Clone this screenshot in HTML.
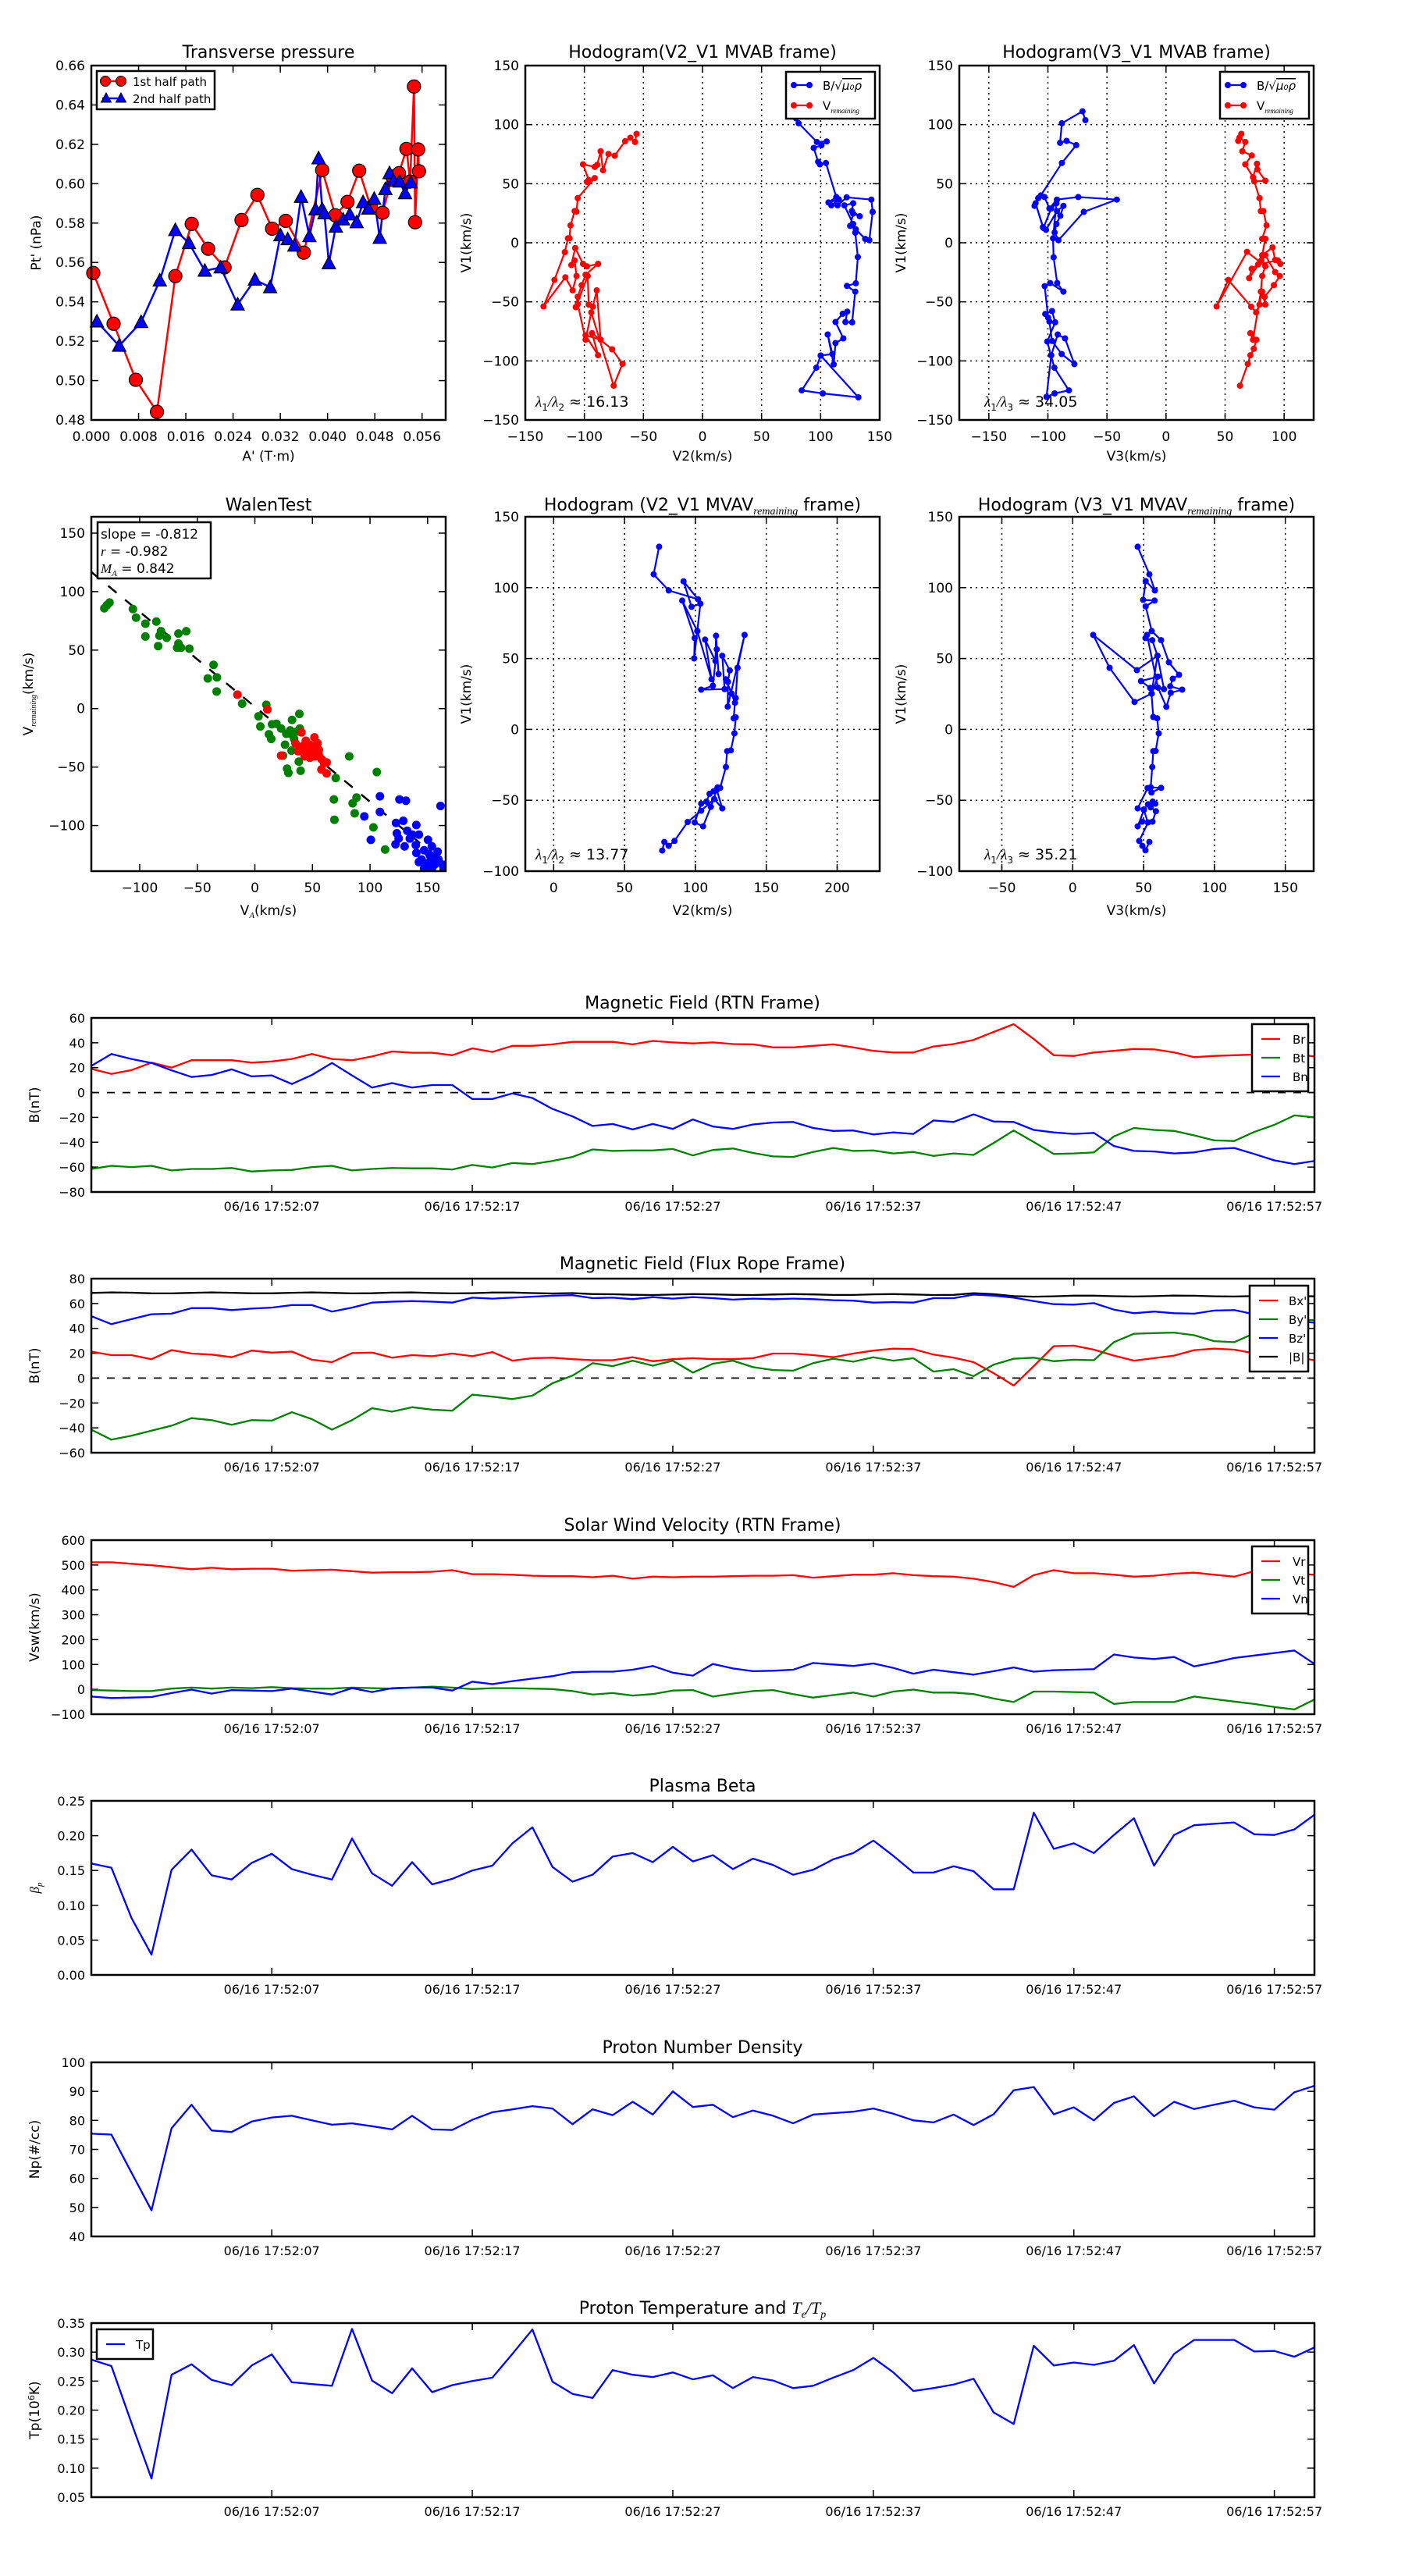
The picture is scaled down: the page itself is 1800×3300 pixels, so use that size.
<!DOCTYPE html>
<html><head><meta charset="utf-8"><style>
html,body{margin:0;padding:0;background:#fff;}
svg{display:block;font-family:"DejaVu Sans","Liberation Sans",sans-serif;}
</style></head><body>
<svg id="s" xmlns="http://www.w3.org/2000/svg" width="1800" height="3300" viewBox="0 0 1800 3300"><rect width="1800" height="3300" fill="#fff"/></svg>
<script>
const NS='http://www.w3.org/2000/svg';const S=document.getElementById('s');
let clipN=0;
function E(t,a,p,txt){const e=document.createElementNS(NS,t);for(const k in a)e.setAttribute(k,a[k]);if(txt!=null)e.textContent=txt;(p||S).appendChild(e);return e;}
function T(x,y,s,size,anchor,p,extra){const a={x:x,y:y,'font-size':size,'text-anchor':anchor||'middle',fill:'#000'};if(extra)for(const k in extra)a[k]=extra[k];return E('text',a,p,s);}
function clipG(x,y,w,h){const id='c'+(clipN++);const cp=E('clipPath',{id:id});E('rect',{x:x,y:y,width:w,height:h},cp);return E('g',{'clip-path':'url(#'+id+')'});}
function pl(pts,c,w,p,dash){const a={points:pts.map(q=>q[0].toFixed(1)+','+q[1].toFixed(1)).join(' '),fill:'none',stroke:c,'stroke-width':w||2.5,'stroke-linejoin':'round'};if(dash)a['stroke-dasharray']=dash;E('polyline',a,p);}
function frame(x,y,w,h){E('rect',{x:x,y:y,width:w,height:h,fill:'none',stroke:'#000','stroke-width':2.5});}
function mapper(ix0,iy0,ix1,iy1,ox0,oy0,ox1,oy1){return q=>[ox0+(q[0]-ix0)/(ix1-ix0)*(ox1-ox0),oy0+(q[1]-iy0)/(iy1-iy0)*(oy1-oy0)];}
function fmtn(v,d){let s=Math.abs(v).toFixed(d);return (v<-1e-9?'\u2212':'')+s;}

function axes(o){
 const X=v=>o.x+(v-o.xmin)/(o.xmax-o.xmin)*o.w, Y=v=>o.y+o.h-(v-o.ymin)/(o.ymax-o.ymin)*o.h;
 if(o.grid){o.xt.forEach(v=>{const x=X(v);if(x>o.x+2&&x<o.x+o.w-2)E('line',{x1:x,y1:o.y,x2:x,y2:o.y+o.h,stroke:'#000','stroke-width':1.5,'stroke-dasharray':'2,5'});});
  o.yt.forEach(v=>{const y=Y(v);if(y>o.y+2&&y<o.y+o.h-2)E('line',{x1:o.x,y1:y,x2:o.x+o.w,y2:y,stroke:'#000','stroke-width':1.5,'stroke-dasharray':'2,5'});});}
 const fs=o.fs||17;
 o.xt.forEach(v=>{const x=X(v);E('line',{x1:x,y1:o.y+o.h,x2:x,y2:o.y+o.h-9,stroke:'#000','stroke-width':1.5});E('line',{x1:x,y1:o.y,x2:x,y2:o.y+9,stroke:'#000','stroke-width':1.5});
  T(x,o.y+o.h+27,o.xl?o.xl(v):fmtn(v,o.xd||0),fs,'middle');});
 o.yt.forEach(v=>{const y=Y(v);E('line',{x1:o.x,y1:y,x2:o.x+9,y2:y,stroke:'#000','stroke-width':1.5});E('line',{x1:o.x+o.w,y1:y,x2:o.x+o.w-9,y2:y,stroke:'#000','stroke-width':1.5});
  T(o.x-8,y+6,fmtn(v,o.yd||0),fs,'end');});
 return {X:X,Y:Y};
}
function range(a,b,s){const r=[];for(let v=a;v<=b+1e-9;v+=s)r.push(Math.round(v*1e6)/1e6);return r;}

(function(){
 const x=117,y=84,w=454,h=454;
 axes({x:x,y:y,w:w,h:h,xmin:0,xmax:0.06,ymin:0.48,ymax:0.66,xt:range(0,0.056,0.008),yt:range(0.48,0.66,0.02),xd:3,yd:2,fs:17});
 const m=mapper(158,122,1432,1393,x,y,x+w,y+h);
 const g=clipG(x-12,y-12,w+24,h+24);
 const red=[[165,866],[238,1048],[318,1249],[394,1364],[460,877],[519,690],[578,779],[637,846],[698,676],[755,586],[808,707],[857,679],[922,793],[988,497],[1035,659],[1079,611],[1121,499],[1163,630],[1205,650],[1240,520],[1264,508],[1291,421],[1304,538],[1318,197],[1322,684],[1333,423],[1336,501]].map(m);
 const blue=[[178,1040],[258,1127],[337,1042],[404,893],[460,712],[509,759],[566,858],[623,846],[684,979],[746,890],[801,917],[838,731],[864,745],[888,768],[912,593],[942,734],[964,638],[975,455],[988,637],[996,652],[1012,831],[1037,700],[1063,674],[1087,656],[1112,684],[1135,612],[1154,635],[1175,600],[1195,740],[1215,565],[1230,508],[1244,535],[1266,538],[1286,580],[1306,541]].map(m);
 pl(red,'#ff0000',2.5,g);
 pl(blue,'#0000ff',2.5,g);
 red.forEach(q=>E('circle',{cx:q[0],cy:q[1],r:8.5,fill:'#ff0000',stroke:'#000','stroke-width':1.2},g));
 blue.forEach(q=>E('polygon',{points:[[q[0],q[1]-9],[q[0]-8.5,q[1]+7],[q[0]+8.5,q[1]+7]].map(p=>p.join(',')).join(' '),fill:'#0000ff',stroke:'#000','stroke-width':1.2},g));
 frame(x,y,w,h);
 E('rect',{x:124,y:91,width:151,height:49,fill:'#fff',stroke:'#000','stroke-width':2.5});
 pl([[131,104],[155,104]],'#ff0000',2.5);E('circle',{cx:135,cy:104,r:6.5,fill:'#ff0000',stroke:'#000'});E('circle',{cx:155,cy:104,r:6.5,fill:'#ff0000',stroke:'#000'});
 T(170,110,'1st half path',15,'start');
 pl([[131,126],[155,126]],'#0000ff',2.5);
 [[136,126],[155,126]].forEach(q=>E('polygon',{points:[[q[0],q[1]-7],[q[0]-6.5,q[1]+5],[q[0]+6.5,q[1]+5]].map(p=>p.join(',')).join(' '),fill:'#0000ff',stroke:'#000'}));
 T(170,132,'2nd half path',15,'start');
 T(344,74,'Transverse pressure',22,'middle');
 T(344,590,"A' (T\u00b7m)",17,'middle');
 T(0,0,"Pt' (nPa)",17,'middle',null,{transform:'translate(52,311) rotate(-90)'});
})();

function hodo(o){
 axes({x:o.x,y:o.y,w:454,h:454,xmin:o.xmin,xmax:o.xmax,ymin:o.ymin,ymax:o.ymax,xt:o.xt,yt:o.yt,grid:o.grid,fs:17});
 const g=clipG(o.x,o.y,454,454);
 (o.series||[]).forEach(sr=>{const pts=sr.p.map(o.m);pl(pts,sr.c,2.2,g);pts.forEach(q=>E('circle',{cx:q[0].toFixed(1),cy:q[1].toFixed(1),r:4,fill:sr.c},g));});
 frame(o.x,o.y,454,454);
}
function legendB(x,y){
 E('rect',{x:x,y:y,width:114,height:60,fill:'#fff',stroke:'#000','stroke-width':2.5});
 pl([[x+10,y+17],[x+30,y+17]],'#0000ff',2.2);E('circle',{cx:x+10,cy:y+17,r:4,fill:'#0000ff'});E('circle',{cx:x+30,cy:y+17,r:4,fill:'#0000ff'});
 const t=T(x+47,y+23,'B/\u221a',15,'start');E('tspan',{'font-style':'italic','text-decoration':'overline'},t,'\u03bc\u2080\u03c1');
 pl([[x+10,y+43],[x+30,y+43]],'#ff0000',2.2);E('circle',{cx:x+10,cy:y+43,r:4,fill:'#ff0000'});E('circle',{cx:x+30,cy:y+43,r:4,fill:'#ff0000'});
 const t2=T(x+47,y+49,'V',15,'start');E('tspan',{'font-size':9,'font-style':'italic','font-family':'Liberation Serif,serif',dy:4},t2,'remaining');
}
function lam(x,y,a,b,v){const t=T(x,y,'',19,'start');E('tspan',{'font-style':'italic','font-family':'Liberation Serif,serif'},t,'\u03bb');E('tspan',{'font-size':12,dy:5},t,a);E('tspan',{'font-style':'italic','font-family':'Liberation Serif,serif',dy:-5},t,'/\u03bb');E('tspan',{'font-size':12,dy:5},t,b);E('tspan',{dy:-5},t,' \u2248 '+v);}
function ylab(x,y,s){T(0,0,s,17,'middle',null,{transform:'translate('+x+','+y+') rotate(-90)'});}

(function(){
 const x=673,y=84;const m=mapper(68,130,1432,1494,x,y,x+454,y+454);
 hodo({x:x,y:y,xmin:-150,xmax:150,ymin:-150,ymax:150,xt:range(-150,150,50),yt:range(-150,150,50),grid:true,m:m,series:[
 {c:'#ff0000',p:[[496,393],[490,424],[472,408],[452,421],[412,477],[388,470],[367,533],[358,460],[345,512],[335,520],[290,510],[312,570],[305,578],[335,563],[270,640],[265,692],[258,690],[242,745],[238,795],[232,795],[220,848],[180,955],[138,1057],[222,945],[250,995],[265,940],[258,880],[245,898],[260,832],[290,893],[305,903],[348,893],[300,935],[285,975],[270,1020],[262,1060],[308,940],[312,1050],[328,1058],[343,995],[358,1185],[300,1168],[348,1245],[325,1160],[402,1222],[442,1278],[408,1362],[322,1080],[300,1185],[270,1048]]},
 {c:'#0000ff',p:[[1110,333],[1120,352],[1190,424],[1228,422],[1208,437],[1178,447],[1195,500],[1202,510],[1225,505],[1265,636],[1235,657],[1275,645],[1246,668],[1270,668],[1305,637],[1400,646],[1405,693],[1392,802],[1376,797],[1340,760],[1318,747],[1330,700],[1355,710],[1325,690],[1330,660],[1296,668],[1330,740],[1338,773],[1348,867],[1340,968],[1306,978],[1338,1000],[1326,1118],[1300,1117],[1307,1077],[1290,1085],[1262,1117],[1292,1180],[1262,1198],[1255,1280],[1232,1165],[1250,1240],[1205,1246],[1188,1293],[1132,1380],[1213,1392],[1350,1407],[1205,1246]]}]});
 legendB(1007,92);
 lam(686,521,'1','2','16.13');
 T(900,74,'Hodogram(V2_V1 MVAB frame)',22,'middle');
 T(900,590,'V2(km/s)',17,'middle');ylab(603,311,'V1(km/s)');
})();
(function(){
 const x=1229,y=84;const m=mapper(87,130,1448,1494,x,y,x+454,y+454);
 hodo({x:x,y:y,xmin:-175,xmax:125,ymin:-150,ymax:150,xt:range(-150,100,50),yt:range(-150,150,50),grid:true,m:m,series:[
 {c:'#0000ff',p:[[571,340],[560,306],[481,352],[474,427],[499,420],[536,436],[481,505],[400,630],[376,670],[390,640],[414,636],[433,680],[462,646],[544,636],[692,646],[565,693],[468,802],[453,772],[460,740],[475,708],[487,670],[462,690],[420,762],[408,752],[380,660],[410,755],[440,680],[460,660],[447,795],[449,868],[463,967],[487,1000],[436,967],[415,979],[428,1100],[417,1086],[443,1075],[455,1118],[425,1192],[439,1245],[452,1293],[508,1380],[453,1392],[422,1405],[440,1245],[465,1165],[493,1180],[529,1279],[480,1240],[443,1190],[433,1115]]},
 {c:'#ff0000',p:[[1170,393],[1158,420],[1163,407],[1185,424],[1174,460],[1210,476],[1185,510],[1215,560],[1230,508],[1232,530],[1262,573],[1220,576],[1240,640],[1245,690],[1255,690],[1267,745],[1250,797],[1262,797],[1250,860],[1290,830],[1300,878],[1320,893],[1310,880],[1235,895],[1210,912],[1200,948],[1247,880],[1262,860],[1300,925],[1318,940],[1295,975],[1260,1020],[1262,1050],[1250,1000],[1240,1050],[1227,1080],[1208,1058],[1120,955],[1075,1057],[1192,847],[1262,902],[1250,940],[1245,1000],[1215,1185],[1205,1160],[1228,1185],[1218,1220],[1205,1245],[1195,1278],[1165,1362]]}]});
 legendB(1563,92);
 lam(1261,521,'1','3','34.05');
 T(1456,74,'Hodogram(V3_V1 MVAB frame)',22,'middle');
 T(1456,590,'V3(km/s)',17,'middle');ylab(1160,311,'V1(km/s)');
})();

(function(){
 const x=117,y=662,w=454,h=454;
 const A=axes({x:x,y:y,w:w,h:h,xmin:-142,xmax:165.7,ymin:-139,ymax:164,xt:range(-100,150,50),yt:range(-100,150,50),fs:17});
 const m=mapper(50,66,1413,1425,x,y,x+w,y+h);
 const g=clipG(x,y,w,h);
 pl([[A.X(-142),A.Y(-0.812*-142+1.5)],[A.X(166),A.Y(-0.812*166+1.5)]],'#000',2.5,g,'14,14');
 const green=[[100,417],[110,405],[120,395],[210,420],[222,453],[258,476],[258,525],[300,468],[318,505],[312,522],[340,530],[307,562],[385,514],[415,505],[380,568],[385,552],[395,568],[427,572],[520,634],[498,686],[533,682],[532,736],[630,783],[723,787],[693,831],[700,870],[733,900],[742,918],[745,862],[762,860],[780,878],[800,898],[822,845],[850,822],[852,878],[820,900],[830,918],[795,940],[820,963],[787,982],[848,1005],[803,1032],[808,1048],[855,1040],[990,1068],[1042,985],[1148,1045],[983,1150],[985,1228],[1055,1165],[1070,1143],[1063,1203],[1135,1257],[1180,1342],[840,890],[815,885]].map(m);
 const red=[[612,748],[727,805],[858,893],[780,982],[835,935],[850,955],[865,945],[875,925],[880,970],[890,990],[905,960],[908,912],[920,935],[925,960],[935,995],[945,1010],[955,1050],[935,1035],[870,985],[845,965],[890,940],[910,985],[925,980],[955,1008],[860,960],[900,975]].map(m);
 const blue=[[1160,1138],[1235,1150],[1260,1155],[1393,1175],[1100,1215],[1160,1198],[1125,1305],[1222,1240],[1250,1232],[1300,1248],[1225,1280],[1232,1300],[1220,1322],[1255,1330],[1265,1270],[1285,1285],[1310,1285],[1298,1325],[1300,1355],[1310,1390],[1330,1345],[1345,1305],[1360,1330],[1382,1350],[1355,1370],[1340,1395],[1370,1400],[1385,1380],[1400,1400],[1330,1415],[1360,1415],[1405,1418],[1275,1300],[1320,1380],[1350,1360],[1370,1385]].map(m);
 green.forEach(q=>E('circle',{cx:q[0],cy:q[1],r:5.5,fill:'#008000'},g));
 red.forEach(q=>E('circle',{cx:q[0],cy:q[1],r:5.5,fill:'#ff0000'},g));
 blue.forEach(q=>E('circle',{cx:q[0],cy:q[1],r:5.5,fill:'#0000ff'},g));
 frame(x,y,w,h);
 E('rect',{x:125,y:669,width:145,height:72,fill:'#fff',stroke:'#000','stroke-width':2.5});
 T(129,690,'slope = -0.812',17,'start');
 const t=T(129,712,'',17,'start');E('tspan',{'font-style':'italic','font-family':'Liberation Serif,serif'},t,'r');E('tspan',{},t,' = -0.982');
 const t2=T(129,734,'',17,'start');E('tspan',{'font-style':'italic','font-family':'Liberation Serif,serif'},t2,'M');E('tspan',{'font-size':11,'font-style':'italic','font-family':'Liberation Serif,serif',dy:4},t2,'A');E('tspan',{dy:-4},t2,' = 0.842');
 T(344,654,'WalenTest',22,'middle');
 const xl=T(344,1172,'V',17,'middle');E('tspan',{'font-size':11,'font-style':'italic','font-family':'Liberation Serif,serif',dy:4},xl,'A');E('tspan',{dy:-4},xl,'(km/s)');
 const yl=T(0,0,'V',17,'middle',null,{transform:'translate(42,889) rotate(-90)'});E('tspan',{'font-size':10,'font-style':'italic','font-family':'Liberation Serif,serif',dy:4},yl,'remaining');E('tspan',{dy:-4},yl,'(km/s)');
})();
(function(){
 const x=673,y=662;const m=mapper(68,66,1432,1427,x,y,x+454,y+454);
 hodo({x:x,y:y,xmin:-20,xmax:230,ymin:-100,ymax:150,xt:range(0,200,50),yt:range(-100,150,50),grid:true,m:m,series:[
 {c:'#0000ff',p:[[583,181],[562,287],[620,349],[733,383],[677,314],[708,412],[742,400],[730,505],[718,610],[720,532],[672,388],[730,505],[785,690],[760,538],[800,620],[802,523],[812,670],[805,575],[790,715],[745,730],[835,728],[826,600],[855,656],[848,700],[847,795],[912,520],[885,646],[878,762],[862,745],[840,690],[875,780],[870,840],[878,836],[873,898],[859,963],[845,966],[840,1027],[818,1107],[808,1105],[793,1120],[777,1130],[765,1160],[745,1168],[720,1240],[752,1255],[782,1180],[805,1115],[826,1186],[795,1150],[745,1195],[693,1238],[642,1311],[620,1330],[603,1315],[595,1348]]}]});
 lam(686,1101,'1','2','13.77');
 const t=T(900,654,'Hodogram (V2_V1 MVAV',22,'middle');E('tspan',{'font-size':14,'font-style':'italic','font-family':'Liberation Serif,serif',dy:5},t,'remaining');E('tspan',{dy:-5},t,' frame)');
 T(900,1172,'V2(km/s)',17,'middle');ylab(603,889,'V1(km/s)');
})();
(function(){
 const x=1229,y=662;const m=mapper(87,66,1448,1427,x,y,x+454,y+454);
 hodo({x:x,y:y,xmin:-80,xmax:170,ymin:-100,ymax:150,xt:range(-50,150,50),yt:range(-100,150,50),grid:true,m:m,series:[
 {c:'#0000ff',p:[[772,181],[817,287],[838,349],[803,313],[793,385],[837,388],[803,410],[826,505],[862,540],[892,625],[931,673],[907,688],[897,717],[943,730],[899,742],[882,796],[850,722],[808,520],[802,532],[828,540],[848,600],[769,655],[601,520],[664,646],[760,777],[826,745],[850,680],[785,697],[820,723],[873,728],[848,600],[825,745],[832,835],[847,840],[853,898],[841,965],[832,966],[828,1027],[822,1105],[862,1107],[825,1125],[810,1108],[772,1186],[796,1190],[812,1170],[840,1168],[830,1160],[822,1182],[842,1197],[829,1237],[811,1240],[796,1192],[772,1255],[790,1237],[812,1240],[778,1311],[790,1330],[802,1347],[817,1315]]}]});
 lam(1261,1101,'1','3','35.21');
 const t=T(1456,654,'Hodogram (V3_V1 MVAV',22,'middle');E('tspan',{'font-size':14,'font-style':'italic','font-family':'Liberation Serif,serif',dy:5},t,'remaining');E('tspan',{dy:-5},t,' frame)');
 T(1456,1172,'V3(km/s)',17,'middle');ylab(1160,889,'V1(km/s)');
})();

const X0=117,TW=1567,TH=223;
function tsPanel(top,ymin,ymax,ystep,yd,series,titleFn,ylabFn,legend,zero){
 const X=i=>X0+i*TW/61, Y=v=>top+TH-(v-ymin)/(ymax-ymin)*TH;
 const fs=16;
 range(ymin,ymax,ystep).forEach(v=>{const y=Y(v);E('line',{x1:X0,y1:y,x2:X0+9,y2:y,stroke:'#000','stroke-width':1.5});E('line',{x1:X0+TW,y1:y,x2:X0+TW-9,y2:y,stroke:'#000','stroke-width':1.5});T(X0-8,y+6,fmtn(v,yd),fs,'end');});
 const labs=['07','17','27','37','47','57'];
 labs.forEach((l,k)=>{const x=X(9+10*k);E('line',{x1:x,y1:top+TH,x2:x,y2:top+TH-9,stroke:'#000','stroke-width':1.5});E('line',{x1:x,y1:top,x2:x,y2:top+9,stroke:'#000','stroke-width':1.5});T(x,top+TH+24,'06/16 17:52:'+l,16,'middle');});
 const g=clipG(X0,top,TW,TH);
 if(zero)pl([[X0,Y(0)],[X0+TW,Y(0)]],'#000',1.8,g,'10,10');
 series.forEach(s=>pl(s.d.map((v,i)=>[X(i),Y(v)]),s.c,2.3,g));
 frame(X0,top,TW,TH);
 titleFn(top);ylabFn(top);
 if(legend){const L=legend;E('rect',{x:L.x,y:top+L.dy,width:L.w,height:L.items.length*24+14,fill:'#fff',stroke:'#000','stroke-width':2.5});
  L.items.forEach((it,k)=>{const yy=top+L.dy+19+k*24;pl([[L.x+12,yy],[L.x+36,yy]],it.c,2.3);T(L.x+L.tx,yy+6,it.n,15,'start');});}
}
function simpleTitle(s){return top=>T(900,top-12,s,22,'middle');}
function simpleY(s){return top=>ylab(50,top+TH/2,s);}
const tops=[1304,1638,1973,2307,2642,2976];

tsPanel(tops[0],-80,60,20,0,[
 {c:'#ff0000',d:[19,15,18,24,20,26,26,26,24,25,27,31,27,26,29,33,32,32,30,35.5,32.6,37.5,37.5,38.7,40.7,40.7,40.7,38.7,41.5,40.3,39.5,40.3,39,38.7,36.3,36.3,37.5,38.7,36.3,33.5,32.2,32.2,37,39,42.3,48.7,55,43,30,29.4,32.2,33.5,35,34.7,32.2,28.4,29.4,30,30.5,31,31,29]},
 {c:'#008000',d:[-61.5,-59,-60,-59,-62.7,-61.5,-61.5,-60.7,-63.5,-62.7,-62.3,-60,-59,-62.7,-61.5,-60.7,-61,-61,-61.9,-58.3,-60.3,-56.7,-57.5,-55,-51.8,-45.8,-47,-46.6,-46.6,-45.4,-50.6,-46.2,-45,-48.6,-51.4,-51.8,-47.8,-44.6,-47,-46.6,-49,-47.8,-51,-49,-50.2,-40.6,-30.5,-39.8,-49.4,-49,-48.2,-35.3,-28.5,-30.1,-30.9,-34.5,-38.5,-39,-31.7,-26,-18.4,-20]},
 {c:'#0000ff',d:[21.4,31,27,23.8,17.8,12.5,14.1,18.6,13,13.7,6.8,14.1,23.8,13.7,4,7.6,4,6,6,-5.2,-5.2,-0.7,-4.4,-13.2,-19.2,-26.9,-25.3,-29.7,-25.3,-29.3,-21.7,-27.3,-29.3,-25.7,-24.1,-23.7,-28.5,-30.9,-30.5,-33.7,-32.1,-33.3,-22.5,-23.7,-17.6,-23.3,-23.7,-30.1,-32.1,-33.3,-32.5,-43,-47,-47.4,-49,-48.2,-45.4,-44.6,-49.4,-54.6,-57.5,-55]}
],simpleTitle('Magnetic Field (RTN Frame)'),simpleY('B(nT)'),{x:1604,dy:8,w:72,tx:52,items:[{c:'#ff0000',n:'Br'},{c:'#008000',n:'Bt'},{c:'#0000ff',n:'Bn'}]},true);

(function(){
 const bmag=[];for(let i=0;i<62;i++){bmag.push(68.5-(i>24?1.3:0)-(i>44?1.2:0)+0.4*Math.sin(i*1.3));}
 bmag[44]=68.3;bmag[45]=67.5;bmag[47]=65.5;
 tsPanel(tops[1],-60,80,20,0,[
 {c:'#000000',d:bmag},
 {c:'#0000ff',d:[49.8,43.4,47.4,51.4,51.8,56.3,56.3,54.7,55.9,56.7,58.7,58.7,53.5,56.7,60.7,61.5,61.9,61.5,60.7,64.7,63.9,64.7,65.5,66.3,66.7,64.3,64.7,63.5,65.1,63.9,65.1,64.3,63.1,63.9,63.5,63.9,63.5,62.7,62.3,60.7,61.1,60.7,64.3,64.3,67.1,66.3,64.7,61.9,59.5,59.1,60.3,55.1,52.2,53.5,52.2,51.8,54.3,54.7,51.4,48,46,44.6]},
 {c:'#ff0000',d:[21.3,18.5,18.5,15.2,22.5,19.7,18.9,16.8,22.1,20.5,21.3,14.8,12.8,20.1,20.5,16.4,18.5,17.6,19.7,17.6,20.9,14,16,16.4,15.2,14.4,14.4,16.8,13.6,15.2,16,15.2,15.2,16,19.7,19.7,18.5,16.8,19.7,22.1,23.7,23.3,18.9,16.4,12.8,4,-6,9.6,25.7,26.1,22.9,18.1,14,16,18.1,22.5,23.7,22.9,20,18,17,14.4]},
 {c:'#008000',d:[-41.5,-49.5,-46.3,-42.3,-38.3,-32.2,-33.8,-37.5,-33.8,-34.2,-27.4,-33,-41.5,-33.8,-24.2,-27,-23.4,-25.4,-26.2,-13.3,-14.9,-16.9,-14.1,-4.1,2,12,9.6,14,10,14,4.4,11.6,14,8.8,6.5,6,12,15.6,13.2,16.8,14,16,5.2,7.2,1.6,10.8,15.6,16.4,13.6,14.8,14.4,28.9,35.7,36.2,36.6,34.5,29.7,28.9,36,42,47,46.6]}
 ],simpleTitle('Magnetic Field (Flux Rope Frame)'),simpleY('B(nT)'),{x:1601,dy:9,w:75,tx:50,items:[{c:'#ff0000',n:"Bx'"},{c:'#008000',n:"By'"},{c:'#0000ff',n:"Bz'"},{c:'#000000',n:'|B|'}]},true);
})();

tsPanel(tops[2],-100,600,100,0,[
 {c:'#ff0000',d:[511,511,505,499,491,483,489,483,485,485,477,479,481,475,469,471,471,473,479,463,463,461,457,455,455,451,457,445,453,451,453,453,455,457,457,459,449,455,461,461,467,459,455,453,445,431,412,459,479,467,467,461,453,457,465,469,461,453,475,470,465,461]},
 {c:'#008000',d:[-3,-5,-7,-7,3,7,3,7,5,9,5,3,3,7,5,3,7,11,7,1,5,5,3,1,-7,-21,-15,-25,-19,-5,-3,-29,-17,-7,-3,-19,-33,-23,-13,-29,-9,-1,-13,-13,-19,-37,-51,-9,-9,-11,-13,-59,-51,-51,-51,-29,-39,-49,-59,-71,-81,-41]},
 {c:'#0000ff',d:[-29,-35,-33,-31,-15,-1,-17,-3,-5,-7,3,-9,-21,5,-11,5,7,7,-5,31,21,33,43,53,69,71,71,79,94,67,55,102,84,73,75,79,106,100,94,104,86,63,79,69,59,73,88,71,77,79,81,140,128,122,130,92,108,126,136,146,156,102]}
],simpleTitle('Solar Wind Velocity (RTN Frame)'),simpleY('Vsw(km/s)'),{x:1604,dy:8,w:72,tx:52,items:[{c:'#ff0000',n:'Vr'},{c:'#008000',n:'Vt'},{c:'#0000ff',n:'Vn'}]},false);

tsPanel(tops[3],0,0.25,0.05,2,[
 {c:'#0000ff',d:[0.160,0.154,0.082,0.029,0.151,0.180,0.143,0.137,0.161,0.174,0.152,0.144,0.137,0.196,0.146,0.128,0.162,0.130,0.138,0.150,0.157,0.189,0.212,0.155,0.134,0.144,0.170,0.175,0.162,0.184,0.163,0.172,0.152,0.167,0.158,0.144,0.151,0.166,0.175,0.193,0.171,0.147,0.147,0.156,0.149,0.123,0.123,0.233,0.181,0.189,0.175,0.201,0.225,0.157,0.201,0.215,0.217,0.219,0.202,0.201,0.209,0.230]}
],simpleTitle('Plasma Beta'),top=>{const t=T(0,0,'',17,'middle',null,{transform:'translate(50,'+(top+TH/2)+') rotate(-90)','font-style':'italic','font-family':'Liberation Serif,serif'});E('tspan',{},t,'\u03b2');E('tspan',{'font-size':11,dy:4},t,'p');},null,false);

tsPanel(tops[4],40,100,10,0,[
 {c:'#0000ff',d:[75.4,75.1,62,49,77.3,85.4,76.5,76,79.6,81,81.6,80,78.5,79,78,76.9,81.6,76.9,76.7,80.2,82.8,83.8,84.9,84.1,78.7,83.8,81.8,86.4,82,90,84.6,85.4,81.1,83.4,81.6,79,82,82.5,83,84.1,82.3,80,79.3,82,78.4,82.1,90.4,91.5,82.1,84.5,80,86,88.3,81.4,86.4,83.9,85.4,86.8,84.5,83.7,89.7,91.9]}
],simpleTitle('Proton Number Density'),simpleY('Np(#/cc)'),null,false);

tsPanel(tops[5],0.05,0.35,0.05,2,[
 {c:'#0000ff',d:[0.287,0.276,0.178,0.082,0.261,0.279,0.252,0.243,0.277,0.296,0.248,0.245,0.242,0.340,0.251,0.229,0.272,0.231,0.243,0.250,0.256,0.297,0.339,0.249,0.228,0.221,0.269,0.261,0.257,0.265,0.253,0.260,0.238,0.257,0.251,0.238,0.242,0.256,0.269,0.290,0.265,0.233,0.238,0.244,0.254,0.196,0.176,0.311,0.277,0.282,0.278,0.285,0.312,0.246,0.297,0.321,0.321,0.321,0.301,0.302,0.292,0.308]}
],top=>{const t=T(900,top-12,'Proton Temperature and ',22,'middle');E('tspan',{'font-style':'italic','font-family':'Liberation Serif,serif'},t,'T');E('tspan',{'font-size':14,'font-style':'italic','font-family':'Liberation Serif,serif',dy:5},t,'e');E('tspan',{'font-style':'italic','font-family':'Liberation Serif,serif',dy:-5},t,'/T');E('tspan',{'font-size':14,'font-style':'italic','font-family':'Liberation Serif,serif',dy:5},t,'p');},
 top=>{const t=T(0,0,'Tp(10',17,'middle',null,{transform:'translate(50,'+(top+TH/2)+') rotate(-90)'});E('tspan',{'font-size':11,dy:-6},t,'6');E('tspan',{dy:6},t,'K)');},
 {x:124,dy:8,w:72,tx:50,items:[{c:'#0000ff',n:'Tp'}]},false);
</script>
</body></html>
